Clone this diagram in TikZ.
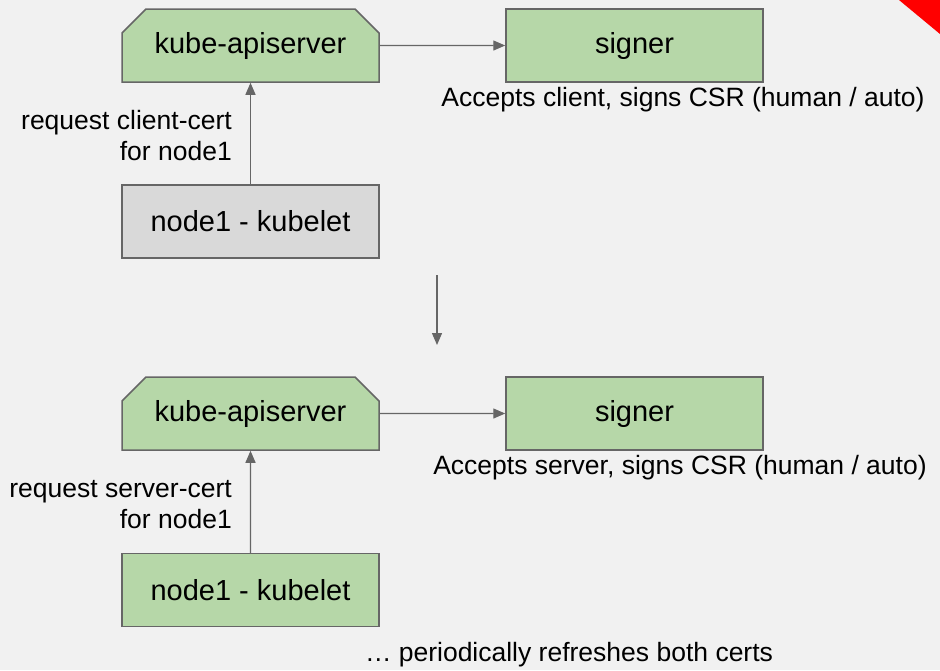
\documentclass[tikz,border=0pt]{standalone}
\usepackage{fontspec}
\setmainfont{Liberation Sans}
\usetikzlibrary{shapes, arrows.meta, positioning}
\definecolor{bgcol}{HTML}{F1F1F1}
\definecolor{boxgreen}{HTML}{B6D7A8}
\definecolor{boxgray}{HTML}{D9D9D9}
\definecolor{linegray}{HTML}{666666}

\begin{document}
\begin{tikzpicture}[x=1pt, y=-1pt, font=\fontsize{29}{34}\selectfont,
            b/.style={draw=linegray, line width=1.5pt, minimum width=257pt, minimum height=73pt, inner sep=0pt},
            api/.style={b, chamfered rectangle, chamfered rectangle corners={north west,north east},
                chamfered rectangle xsep=12pt, chamfered rectangle ysep=12pt},
            lbl/.style={font=\fontsize{26.5}{31}\selectfont, inner sep=0pt},
            arr/.style={draw=linegray, line width=1.3pt, -{Triangle[length=12pt,width=10pt]}}]
            \fill[bgcol] (0,0) rectangle (940,670);
            \useasboundingbox (0,0) rectangle (940,670);
            \fill[red] (899,0) -- (940,0) -- (940,34) -- cycle;
            % client cert
            \node[api, fill=boxgreen] (api1) at (250.5,45.5) {kube-apiserver};
            \node[b, fill=boxgreen] (sig1) at (634.5,45.5) {signer};
            \node[b, fill=boxgray] (kub1) at (250.5,221.5) {node1 - kubelet};
            \node[lbl] (acc1) at (683,100) {Accepts client, signs CSR (human / auto)};
            \node[lbl, align=right, anchor=east] (req1) at (232,136) {request client-cert\\for node1};
            \draw[arr] (api1)--(sig1); \draw[arr] (kub1)--(api1);
            % then
            \coordinate (d1) at (437,275); \coordinate (d2) at (437,345);
            \draw[arr] (d1)--(d2);
            % server cert
            \node[api, fill=boxgreen] (api2) at (250.5,413.5) {kube-apiserver};
            \node[b, fill=boxgreen] (sig2) at (634.5,413.5) {signer};
            \node[b, fill=boxgreen] (kub2) at (250.5,590) {node1 - kubelet};
            \node[lbl] (acc2) at (680,468) {Accepts server, signs CSR (human / auto)};
            \node[lbl, align=right, anchor=east] (req2) at (232,505) {request server-cert\\for node1};
            \draw[arr] (api2)--(sig2); \draw[arr] (kub2)--(api2);
            \node[lbl] (ref) at (569,655) {… periodically refreshes both certs};
        \end{tikzpicture}
\end{document}
